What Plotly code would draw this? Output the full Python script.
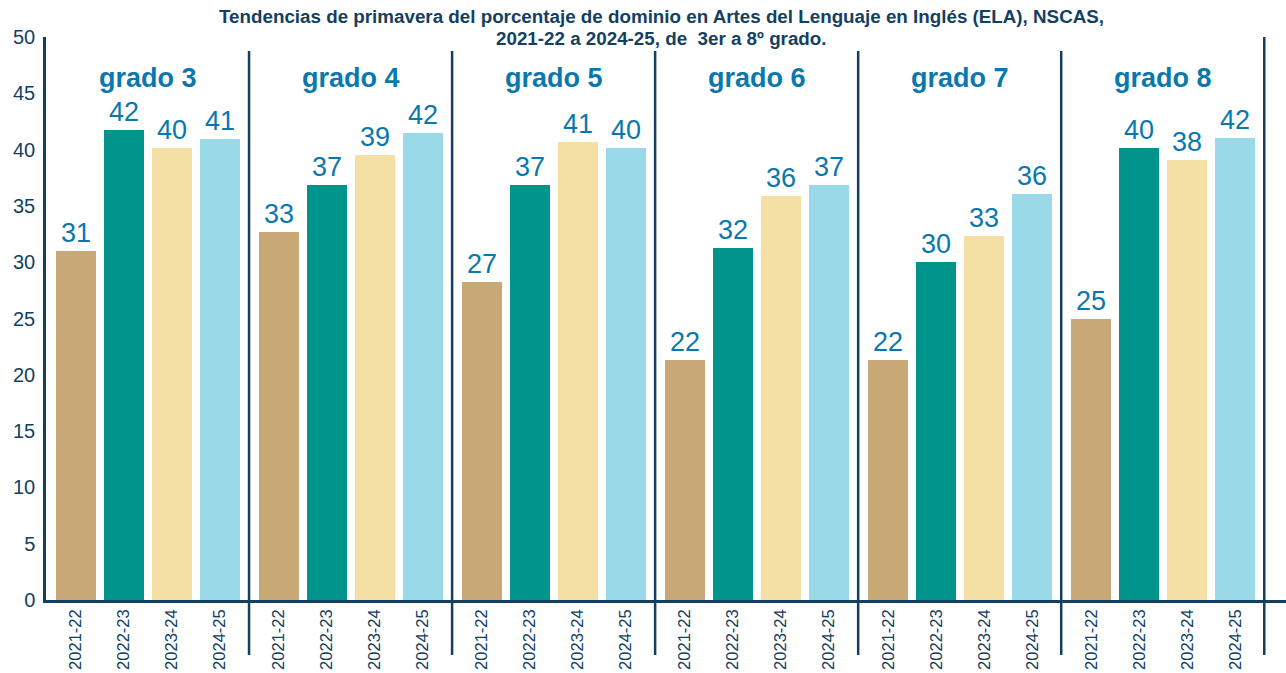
import plotly.graph_objects as go

grades = ["grado 3", "grado 4", "grado 5", "grado 6", "grado 7", "grado 8"]
years = ["2021-22", "2022-23", "2023-24", "2024-25"]

# bar heights (percent proficient) per year, one value per grade
v2122 = [31.0, 32.7, 28.2, 21.3, 21.3, 25.0]
v2223 = [41.7, 36.9, 36.9, 31.3, 30.0, 40.1]
v2324 = [40.1, 39.5, 40.7, 35.9, 32.3, 39.1]
v2425 = [40.9, 41.5, 40.1, 36.9, 36.1, 41.0]

# printed labels above bars
t2122 = ["31", "33", "27", "22", "22", "25"]
t2223 = ["42", "37", "37", "32", "30", "40"]
t2324 = ["40", "39", "41", "36", "33", "38"]
t2425 = ["41", "42", "40", "37", "36", "42"]

title_lines = [
    "Tendencias de primavera del porcentaje de dominio en Artes del Lenguaje en Inglés (ELA), NSCAS,",
    "2021-22 a 2024-25, de  3er a 8º grado.",
]

colors = ["#c8a877", "#00948d", "#f4dfa5", "#99d9e8"]
series_vals = [v2122, v2223, v2324, v2425]
series_text = [t2122, t2223, t2324, t2425]

W = 4.23  # group pitch in bar-slot units
FONT = "Liberation Sans, Arial, sans-serif"
NAVY = "#143f5f"
BLUE = "#0a78ac"

fig = go.Figure()
for i, (yr, vals, txt, col) in enumerate(zip(years, series_vals, series_text, colors)):
    xs = [g * W + i for g in range(len(grades))]
    fig.add_trace(go.Bar(
        x=xs, y=vals, text=txt, name=yr,
        marker=dict(color=col, line=dict(width=0)),
        width=0.833,
        textposition="outside", cliponaxis=False,
        textfont=dict(size=27, color=BLUE, family=FONT),
        hoverinfo="x+y", showlegend=False,
    ))

tickvals, ticktext = [], []
for g in range(len(grades)):
    for i, yr in enumerate(years):
        tickvals.append(g * W + i)
        ticktext.append(yr)

# group separators
shapes = []
for g in range(1, len(grades) + 1):
    x0 = g * W - 0.625
    top = 1.0 if g == len(grades) else 0.975
    shapes.append(dict(type="line", xref="x", yref="paper", x0=x0, x1=x0,
                       y0=-0.0977, y1=top, line=dict(color=NAVY, width=2.5)))

annotations = []
for g, name in enumerate(grades):
    annotations.append(dict(x=g * W + 1.5, y=46.4, xref="x", yref="y", text=f"<b>{name}</b>",
                            showarrow=False, font=dict(size=27, color=BLUE, family=FONT)))
for line, yy in zip(title_lines, [1.0373, 0.9982]):
    annotations.append(dict(x=0.496, y=yy, xref="paper", yref="paper", xanchor="center",
                            yanchor="middle", text=f"<b>{line}</b>", showarrow=False,
                            font=dict(size=18.8, color=NAVY, family=FONT)))

fig.update_layout(
    width=1286, height=673,
    margin=dict(l=46, r=0, t=37, b=73),
    paper_bgcolor="white", plot_bgcolor="white",
    xaxis=dict(range=[-0.625, 25.208], tickvals=tickvals, ticktext=ticktext, tickangle=-90,
               showgrid=False, zeroline=False, showline=True, linecolor=NAVY, linewidth=2.5,
               ticks="", automargin=False, tickfont=dict(size=16.5, color=NAVY, family=FONT)),
    yaxis=dict(range=[0, 50], dtick=5, showgrid=False, zeroline=False, showline=True,
               linecolor=NAVY, linewidth=2.5, ticks="", ticklabelstandoff=4, automargin=False,
               tickfont=dict(size=20, color=NAVY, family=FONT)),
    shapes=shapes, annotations=annotations, bargap=0,
)

fig.write_html("out.html", config={"displayModeBar": False},
               post_script="document.body.style.margin='0';document.body.style.overflow='hidden';")
